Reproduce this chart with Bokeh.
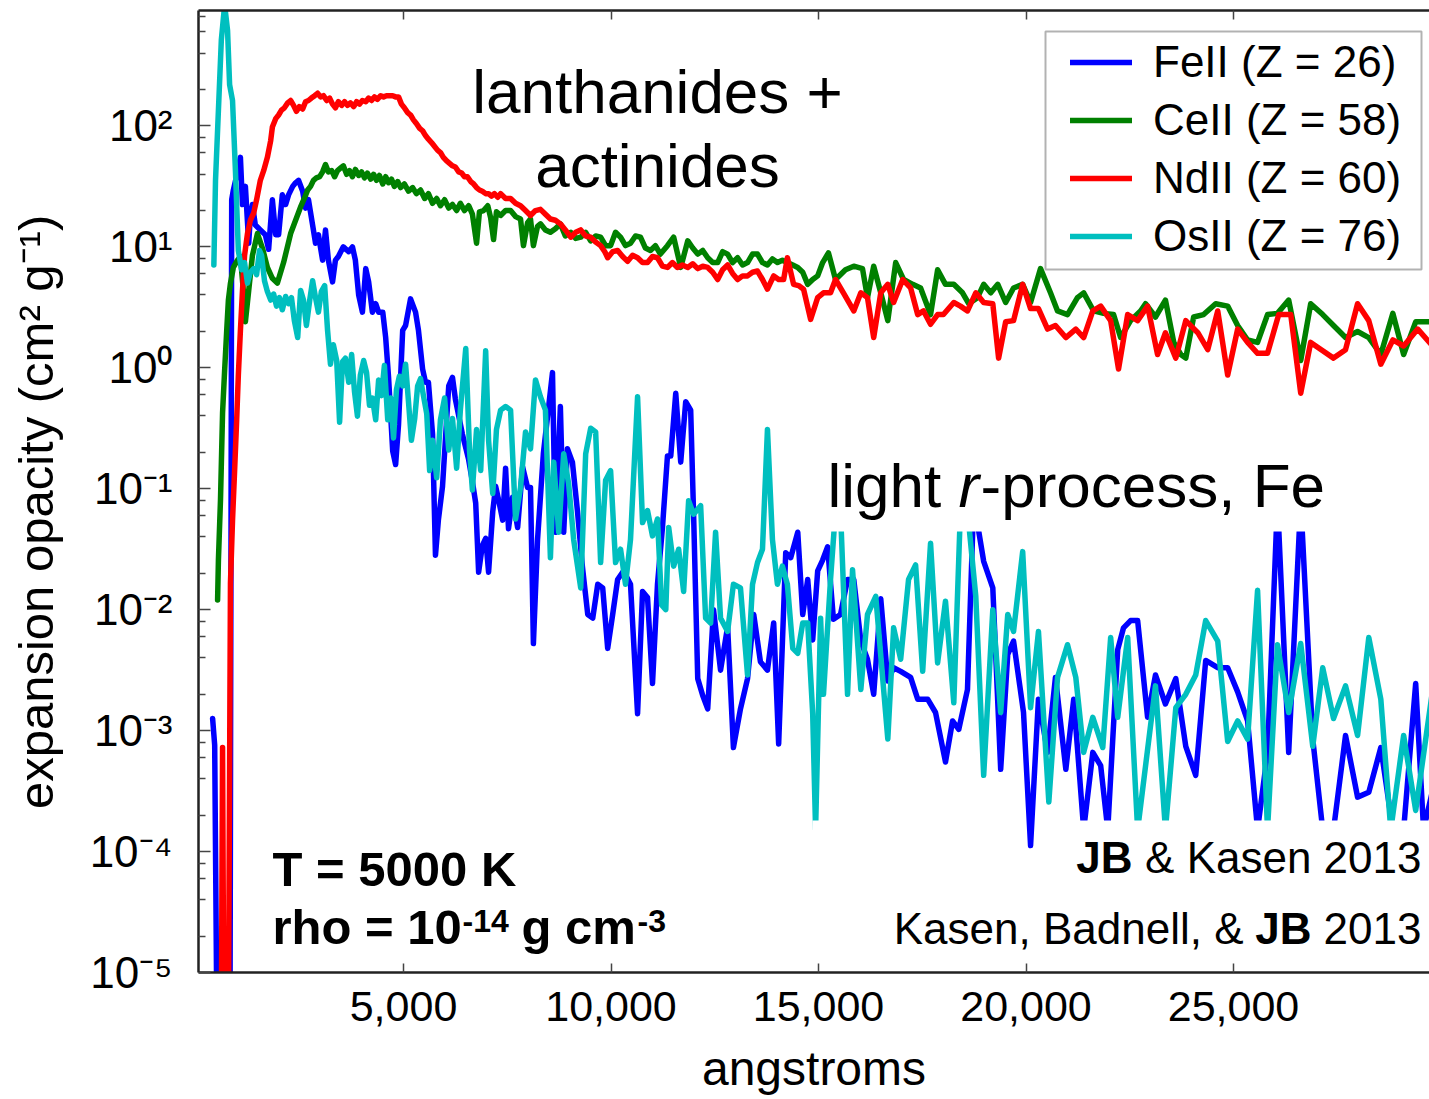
import math
from bokeh.plotting import figure
from bokeh.models import (Range1d, FixedTicker, NumeralTickFormatter, PrintfTickFormatter,
                          CustomJSTickFormatter, LinearAxis, Label, BoxAnnotation,
                          Legend, LegendItem)
from bokeh.embed import file_html
from bokeh.resources import INLINE

# ---------------------------------------------------------------------------
# Expansion opacity at T = 5000 K, rho = 1e-14 g/cm^3.
# Wavelengths in angstroms, opacities stored as log10(kappa / cm^2 g^-1).
# ---------------------------------------------------------------------------
feii_wavelength = [
    400, 450, 540, 810, 860, 900, 980, 1070, 1120, 1190,
    1270, 1310, 1360, 1430, 1550, 1670, 1750, 1840, 1920, 1990,
    2080, 2160, 2230, 2330, 2400, 2470, 2570, 2640, 2710, 2810,
    2880, 2950, 3050, 3120, 3190, 3290, 3360, 3430, 3550, 3680,
    3770, 3840, 3920, 4010, 4090, 4160, 4250, 4330, 4400, 4500,
    4570, 4640, 4740, 4810, 4880, 4980, 5050, 5170, 5290, 5360,
    5460, 5530, 5600, 5700, 5770, 5840, 5940, 6090, 6180, 6250,
    6420, 6570, 6660, 6740, 6810, 6900, 6980, 7050, 7150, 7220,
    7290, 7390, 7460, 7530, 7630, 7750, 7870, 7990, 8060, 8130,
    8230, 8370, 8590, 8660, 8780, 8860, 8950, 9070, 9190, 9310,
    9440, 9560, 9680, 9800, 9920, 10040, 10160, 10300, 10470, 10640,
    10760, 10880, 11000, 11120, 11240, 11360, 11440, 11560, 11680, 11800,
    11920, 11990, 12090, 12210, 12330, 12470, 12640, 12810, 12950, 13120,
    13290, 13440, 13600, 13770, 13920, 14040, 14210, 14330, 14500, 14620,
    14740, 14860, 14980, 15100, 15220, 15360, 15530, 15700, 15850, 16020,
    16180, 16330, 16500, 16670, 16810, 16980, 17220, 17390, 17630, 17820,
    18060, 18230, 18380, 18590, 18740, 18980, 19200, 19390, 19560, 19700,
    19940, 20110, 20300, 20520, 20710, 20960, 21150, 21390, 21610, 21800,
    21970, 22210, 22350, 22520, 22690, 22930, 23120, 23360, 23610, 23850,
    24090, 24330, 24620, 24860, 25100, 25340, 25580, 25820, 26060, 26330,
    26620, 26910, 27150, 27410, 27700, 27990, 28260, 28550, 28840, 29100,
    29390, 29580, 29800,
]
feii_log_opacity = [
    -2.90, -3.12, -7.0, -7.0, 1.39, 1.47, 1.59, 1.74, 1.35, 1.50,
    1.03, 1.26, 1.35, 1.18, 1.14, 1.10, 0.98, 1.39, 1.10, 1.10,
    1.43, 1.35, 1.43, 1.50, 1.53, 1.55, 1.46, 1.32, 1.39, 1.18,
    1.03, 1.10, 0.89, 1.14, 0.89, 0.71, 0.89, 0.92, 1.00, 0.96,
    1.00, 0.89, 0.60, 0.46, 0.82, 0.71, 0.46, 0.53, 0.46, 0.46,
    0.25, -0.08, -0.69, -0.80, -0.47, 0.31, 0.35, 0.57, 0.46, 0.31,
    -0.01, -0.12, -0.12, -0.55, -1.55, -1.26, -0.98, -0.15, -0.08, -0.26,
    -0.55, -0.76, -0.94, -1.12, -1.69, -1.47, -1.41, -1.69, -1.19, -0.98,
    -1.09, -1.26, -0.83, -1.33, -1.07, -1.32, -0.82, -0.99, -0.99, -2.28,
    -1.42, -0.71, -0.04, -1.36, -0.32, -1.36, -0.67, -0.78, -1.18, -1.64,
    -2.04, -2.07, -1.79, -1.82, -2.32, -2.04, -1.75, -1.68, -1.79, -2.86,
    -1.85, -1.90, -2.61, -1.79, -1.32, -0.73, -0.73, -0.21, -0.78, -0.28,
    -0.35, -1.21, -2.57, -2.71, -2.82, -2.00, -2.50, -2.14, -3.14, -2.82,
    -2.57, -2.04, -2.43, -2.50, -2.11, -3.11, -1.53, -1.57, -1.36, -2.04,
    -1.75, -2.25, -1.68, -1.59, -1.48, -2.08, -2.04, -1.75, -1.75, -2.26,
    -2.41, -2.70, -1.91, -2.59, -2.48, -2.51, -2.56, -2.74, -2.74, -2.85,
    -3.26, -2.92, -2.99, -2.66, -1.10, -1.60, -1.82, -3.32, -2.37, -2.26,
    -2.85, -3.95, -2.74, -3.18, -2.56, -3.32, -2.74, -3.82, -3.18, -3.29,
    -3.82, -2.33, -2.15, -2.09, -2.09, -2.89, -2.54, -2.78, -2.57, -3.13,
    -3.37, -2.42, -2.48, -2.48, -2.68, -2.92, -3.82, -3.18, -1.10, -3.18,
    -1.10, -3.07, -3.82, -3.82, -3.04, -3.55, -3.51, -3.14, -3.82, -3.82,
    -2.61, -3.82, -3.49,
]

ceii_wavelength = [
    520, 540, 590, 640, 690, 740, 780, 830, 900, 1000,
    1070, 1140, 1190, 1270, 1360, 1480, 1600, 1720, 1840, 1960,
    2110, 2210, 2280, 2400, 2520, 2610, 2690, 2760, 2830, 2900,
    2980, 3050, 3120, 3190, 3270, 3340, 3410, 3480, 3550, 3630,
    3700, 3770, 3840, 3920, 3990, 4060, 4130, 4210, 4280, 4350,
    4420, 4500, 4570, 4640, 4710, 4780, 4860, 4930, 5020, 5120,
    5220, 5310, 5410, 5510, 5600, 5700, 5800, 5890, 5990, 6090,
    6180, 6280, 6370, 6470, 6570, 6660, 6760, 6830, 6930, 7030,
    7100, 7170, 7240, 7340, 7460, 7580, 7700, 7820, 7890, 7990,
    8060, 8130, 8230, 8300, 8420, 8540, 8660, 8780, 8900, 9030,
    9150, 9270, 9390, 9510, 9630, 9750, 9870, 9990, 10110, 10230,
    10350, 10470, 10590, 10710, 10830, 10950, 11070, 11190, 11360, 11510,
    11680, 11850, 11970, 12090, 12210, 12330, 12450, 12570, 12690, 12810,
    12930, 13050, 13170, 13290, 13410, 13530, 13650, 13770, 13890, 14010,
    14130, 14250, 14380, 14500, 14620, 14740, 14860, 14980, 15100, 15240,
    15410, 15650, 15850, 16060, 16180, 16330, 16500, 16670, 16860, 17050,
    17270, 17460, 17700, 17870, 18060, 18260, 18470, 18620, 18830, 18980,
    19150, 19320, 19510, 19700, 19920, 20110, 20350, 20590, 20760, 21000,
    21240, 21390, 21630, 21870, 22110, 22280, 22520, 22760, 22880, 23120,
    23360, 23560, 23730, 23850, 24040, 24280, 24570, 24860, 25100, 25340,
    25580, 25820, 26060, 26330, 26620, 26860, 27150, 27410, 27700, 27990,
    28260, 28550, 28840, 29100, 29390, 29800,
]
ceii_log_opacity = [
    -1.92, -1.59, -1.09, -0.37, -0.02, 0.31, 0.56, 0.70, 0.83, 0.89,
    0.92, 0.64, 0.38, 0.64, 0.93, 1.11, 0.99, 0.83, 0.74, 0.70,
    0.87, 1.01, 1.11, 1.22, 1.33, 1.40, 1.47, 1.50, 1.55, 1.57,
    1.58, 1.62, 1.68, 1.62, 1.63, 1.58, 1.63, 1.65, 1.67, 1.60,
    1.63, 1.58, 1.64, 1.59, 1.62, 1.57, 1.61, 1.56, 1.60, 1.55,
    1.59, 1.52, 1.58, 1.53, 1.56, 1.50, 1.54, 1.49, 1.52, 1.46,
    1.49, 1.44, 1.47, 1.40, 1.44, 1.36, 1.40, 1.34, 1.39, 1.32,
    1.35, 1.30, 1.36, 1.30, 1.34, 1.27, 1.03, 1.29, 1.30, 1.34,
    1.24, 1.06, 1.29, 1.26, 1.30, 1.30, 1.25, 1.23, 1.01, 1.20,
    1.23, 1.01, 1.17, 1.19, 1.14, 1.12, 1.15, 1.19, 1.09, 1.12,
    1.07, 1.08, 1.12, 1.05, 1.09, 1.08, 1.01, 1.01, 1.12, 1.08,
    1.01, 1.03, 1.09, 1.08, 0.99, 0.97, 1.01, 0.94, 1.01, 1.08,
    0.83, 1.05, 0.99, 0.94, 0.97, 0.91, 0.87, 0.87, 0.96, 0.94,
    0.87, 0.91, 0.85, 0.87, 0.94, 0.94, 0.87, 0.85, 0.90, 0.87,
    0.89, 0.87, 0.85, 0.83, 0.79, 0.69, 0.73, 0.76, 0.87, 0.95,
    0.73, 0.81, 0.84, 0.82, 0.58, 0.84, 0.62, 0.39, 0.87, 0.73,
    0.69, 0.66, 0.44, 0.81, 0.69, 0.69, 0.62, 0.53, 0.58, 0.69,
    0.62, 0.69, 0.54, 0.66, 0.69, 0.54, 0.82, 0.62, 0.47, 0.44,
    0.58, 0.62, 0.47, 0.45, 0.44, 0.25, 0.39, 0.47, 0.53, 0.42,
    0.56, 0.21, 0.11, 0.08, 0.42, 0.44, 0.53, 0.51, 0.35, 0.23,
    0.21, 0.44, 0.45, 0.56, 0.06, 0.53, 0.44, 0.35, 0.25, 0.30,
    0.25, 0.11, 0.45, 0.11, 0.38, 0.38,
]

ndii_wavelength = [
    590, 640, 690, 760, 830, 880, 930, 980, 1020, 1070,
    1120, 1170, 1240, 1310, 1390, 1460, 1550, 1630, 1720, 1800,
    1840, 1920, 1990, 2060, 2130, 2210, 2280, 2350, 2420, 2490,
    2570, 2640, 2710, 2780, 2860, 2930, 3000, 3070, 3150, 3220,
    3290, 3360, 3430, 3510, 3580, 3650, 3720, 3800, 3870, 3940,
    4010, 4090, 4160, 4230, 4300, 4370, 4450, 4520, 4590, 4660,
    4740, 4810, 4880, 4950, 5020, 5100, 5170, 5240, 5310, 5390,
    5460, 5530, 5600, 5680, 5750, 5820, 5890, 5960, 6040, 6110,
    6180, 6250, 6330, 6400, 6470, 6540, 6620, 6690, 6760, 6830,
    6900, 6980, 7050, 7120, 7190, 7270, 7340, 7460, 7580, 7700,
    7820, 7940, 8060, 8180, 8300, 8420, 8540, 8660, 8780, 8900,
    9030, 9150, 9270, 9390, 9510, 9630, 9750, 9850, 9920, 10040,
    10160, 10280, 10400, 10520, 10640, 10760, 10880, 11000, 11120, 11240,
    11360, 11480, 11600, 11720, 11850, 11970, 12090, 12210, 12330, 12450,
    12570, 12690, 12810, 12930, 13050, 13170, 13290, 13410, 13530, 13650,
    13770, 13920, 14040, 14160, 14250, 14400, 14520, 14640, 14810, 14980,
    15120, 15290, 15410, 15600, 15850, 16020, 16180, 16330, 16500, 16670,
    16810, 17030, 17220, 17390, 17530, 17700, 17870, 18010, 18260, 18420,
    18590, 18790, 18980, 19200, 19340, 19510, 19700, 19920, 20110, 20300,
    20520, 20710, 20960, 21200, 21390, 21610, 21800, 22040, 22230, 22450,
    22690, 22930, 23170, 23360, 23610, 23850, 24140, 24380, 24620, 24860,
    25100, 25340, 25580, 25820, 26090, 26380, 26620, 26860, 27150, 27410,
    27700, 27990, 28260, 28550, 28840, 29100, 29440, 29800,
]
ndii_log_opacity = [
    -7.0, -3.14, -7.0, -7.0, -1.78, -1.26, -0.85, -0.43, -0.06, 0.31,
    0.64, 0.93, 1.11, 1.22, 1.28, 1.39, 1.55, 1.63, 1.74, 1.88,
    1.99, 2.06, 2.09, 2.13, 2.15, 2.19, 2.21, 2.17, 2.12, 2.16,
    2.14, 2.20, 2.21, 2.23, 2.25, 2.27, 2.24, 2.25, 2.21, 2.23,
    2.18, 2.15, 2.20, 2.17, 2.20, 2.17, 2.19, 2.16, 2.20, 2.18,
    2.21, 2.20, 2.23, 2.21, 2.24, 2.22, 2.25, 2.24, 2.25, 2.25,
    2.25, 2.24, 2.24, 2.18, 2.15, 2.11, 2.09, 2.05, 2.02, 1.98,
    1.96, 1.92, 1.89, 1.86, 1.83, 1.80, 1.78, 1.74, 1.71, 1.69,
    1.67, 1.66, 1.62, 1.61, 1.58, 1.58, 1.54, 1.52, 1.49, 1.47,
    1.46, 1.44, 1.44, 1.42, 1.44, 1.41, 1.44, 1.40, 1.40, 1.36,
    1.34, 1.30, 1.26, 1.30, 1.31, 1.27, 1.23, 1.22, 1.19, 1.14,
    1.08, 1.12, 1.14, 1.09, 1.08, 1.04, 1.01, 0.96, 0.91, 0.96,
    0.97, 0.92, 0.88, 0.93, 0.91, 0.87, 0.87, 0.92, 0.91, 0.84,
    0.83, 0.87, 0.83, 0.85, 0.83, 0.86, 0.82, 0.84, 0.83, 0.79,
    0.73, 0.81, 0.85, 0.78, 0.73, 0.76, 0.76, 0.79, 0.80, 0.73,
    0.65, 0.76, 0.73, 0.73, 0.91, 0.69, 0.68, 0.65, 0.40, 0.58,
    0.62, 0.62, 0.73, 0.62, 0.47, 0.62, 0.58, 0.25, 0.62, 0.69,
    0.54, 0.73, 0.66, 0.44, 0.47, 0.36, 0.44, 0.44, 0.54, 0.51,
    0.47, 0.62, 0.54, 0.53, 0.08, 0.38, 0.39, 0.69, 0.49, 0.49,
    0.32, 0.35, 0.25, 0.32, 0.25, 0.47, 0.51, 0.39, -0.01, 0.44,
    0.39, 0.51, 0.11, 0.29, 0.08, 0.39, 0.29, 0.15, 0.47, -0.06,
    0.32, 0.21, 0.12, 0.12, 0.44, 0.44, -0.21, 0.21, 0.14, 0.08,
    0.15, 0.53, 0.39, 0.03, 0.23, 0.18, 0.32, 0.18,
]

osii_wavelength = [
    430, 470, 540, 610, 690, 760, 810, 880, 950, 1020,
    1100, 1170, 1240, 1310, 1390, 1460, 1530, 1580, 1650, 1720,
    1800, 1870, 1940, 2010, 2080, 2160, 2230, 2300, 2370, 2450,
    2520, 2590, 2660, 2740, 2810, 2880, 2950, 3020, 3100, 3170,
    3240, 3310, 3390, 3460, 3530, 3600, 3680, 3750, 3820, 3890,
    3960, 4040, 4110, 4180, 4250, 4330, 4400, 4470, 4540, 4620,
    4690, 4760, 4830, 4900, 4980, 5050, 5120, 5190, 5270, 5340,
    5410, 5480, 5560, 5630, 5700, 5800, 5890, 5990, 6090, 6180,
    6280, 6370, 6500, 6590, 6660, 6760, 6860, 6980, 7050, 7150,
    7240, 7340, 7460, 7580, 7700, 7820, 7940, 8060, 8180, 8300,
    8420, 8540, 8620, 8740, 8860, 8980, 9100, 9270, 9390, 9510,
    9630, 9750, 9870, 9990, 10110, 10230, 10350, 10470, 10640, 10760,
    10880, 11000, 11120, 11220, 11320, 11390, 11510, 11630, 11750, 11870,
    11990, 12160, 12280, 12400, 12520, 12640, 12810, 12950, 13120, 13290,
    13410, 13530, 13650, 13770, 13890, 14010, 14130, 14250, 14380, 14500,
    14620, 14740, 14860, 14930, 15050, 15120, 15290, 15410, 15530, 15700,
    15820, 16020, 16180, 16380, 16670, 16810, 16980, 17170, 17340, 17510,
    17700, 17870, 18060, 18260, 18420, 18590, 18790, 18980, 19200, 19390,
    19560, 19700, 19920, 20110, 20300, 20550, 20760, 21000, 21200, 21390,
    21610, 21850, 22040, 22210, 22450, 22690, 23120, 23360, 23610, 23850,
    24090, 24330, 24620, 24860, 25100, 25340, 25580, 25820, 26060, 26330,
    26620, 26910, 27150, 27410, 27700, 27990, 28260, 28550, 28790, 29100,
    29390, 29800,
]
osii_log_opacity = [
    0.85, 1.55, 2.13, 2.71, 3.00, 2.79, 2.34, 2.21, 1.63, 0.97,
    0.81, 0.87, 0.70, 0.79, 0.82, 0.77, 0.97, 0.93, 0.72, 0.63,
    0.56, 0.61, 0.51, 0.58, 0.48, 0.59, 0.53, 0.58, 0.39, 0.25,
    0.64, 0.56, 0.35, 0.56, 0.72, 0.58, 0.46, 0.63, 0.68, 0.31,
    0.03, 0.19, 0.06, -0.45, 0.05, 0.08, -0.12, 0.11, -0.20, -0.40,
    -0.06, 0.06, -0.04, -0.31, -0.25, -0.43, -0.10, -0.23, 0.02, -0.43,
    -0.25, -0.58, -0.18, -0.07, -0.15, 0.03, -0.28, -0.60, -0.42, -0.15,
    -0.09, -0.23, -0.38, -0.85, -0.60, -0.91, -0.43, -0.25, -0.68, -0.42,
    -0.83, -0.35, 0.16, -0.68, -1.01, -0.51, -0.85, 0.14, -0.60, -1.04,
    -0.51, -0.35, -0.32, -0.35, -1.25, -0.99, -0.53, -0.67, -0.10, -0.24,
    -0.35, -1.57, -0.78, -1.36, -0.71, -0.96, -1.42, -1.82, -0.71, -0.50,
    -0.53, -1.61, -0.93, -0.85, -1.61, -1.50, -1.79, -1.42, -0.24, -1.28,
    -1.18, -1.39, -1.25, -1.96, -2.00, -1.32, -1.64, -1.50, -1.85, -1.10,
    -1.21, -1.14, -2.07, -2.11, -1.36, -2.07, -2.18, -1.79, -1.82, -2.54,
    -1.79, -1.61, -1.50, -0.51, -1.42, -1.79, -1.64, -1.79, -2.32, -2.36,
    -2.11, -2.11, -2.86, -3.82, -2.07, -2.70, -1.75, -1.18, -1.18, -2.70,
    -1.67, -2.66, -2.04, -1.89, -3.07, -2.15, -2.41, -1.75, -1.63, -2.51,
    -1.45, -2.44, -1.93, -2.77, -1.18, -1.18, -1.89, -3.37, -2.00, -2.85,
    -2.04, -2.18, -1.52, -2.81, -2.18, -3.59, -2.56, -2.29, -2.56, -3.18,
    -2.89, -3.14, -2.23, -2.89, -2.23, -3.82, -2.63, -3.82, -2.81, -2.70,
    -2.54, -2.09, -2.26, -3.09, -2.92, -3.07, -1.84, -3.82, -2.29, -2.85,
    -2.28, -3.13, -2.48, -2.90, -2.63, -3.04, -2.23, -2.74, -3.82, -3.04,
    -3.66, -2.66,
]

species = ["FeII (Z = 26)", "CeII (Z = 58)", "NdII (Z = 60)", "OsII (Z = 76)"]
species_colors = ["#0000ff", "#008000", "#ff0000", "#00bfbf"]
x_tick_values = [5000, 10000, 15000, 20000, 25000]
y_tick_exponents = [-5, -4, -3, -2, -1, 0, 1, 2]

# ---------------------------------------------------------------------------
FONT = "Liberation Sans"
W, H = 1429, 1099
FRAME_LEFT, FRAME_TOP, FRAME_BOTTOM_BORDER = 198, 10, 127
FRAME_BOTTOM = H - FRAME_BOTTOM_BORDER
FRAME_W, FRAME_H = W - FRAME_LEFT, FRAME_BOTTOM - FRAME_TOP
X0, X1 = 60.0, 29723.0
Y0, Y1 = 1e-5, 900.0

p = figure(width=W, height=H, x_range=Range1d(X0, X1), y_range=Range1d(Y0, Y1),
           y_axis_type="log", output_backend="svg", toolbar_location=None,
           min_border_left=FRAME_LEFT, min_border_right=0,
           min_border_top=FRAME_TOP, min_border_bottom=FRAME_BOTTOM_BORDER)
p.outline_line_color = None
p.grid.visible = False
p.background_fill_color = "white"
p.border_fill_color = "white"


def px_x(px):
    return X0 + (px - FRAME_LEFT) / FRAME_W * (X1 - X0)


def px_y(py):
    span = math.log10(Y1) - math.log10(Y0)
    return 10 ** (math.log10(Y0) + (FRAME_BOTTOM - py) / FRAME_H * span)


AXIS_COLOR = "#222222"
TICK_COLOR = "#444444"

# bottom axis
xa = p.xaxis[0]
xa.ticker = FixedTicker(ticks=x_tick_values, minor_ticks=[])
xa.formatter = NumeralTickFormatter(format="0,0")
xa.major_tick_in, xa.major_tick_out = 9, 0
xa.minor_tick_in, xa.minor_tick_out = 0, 0
xa.axis_line_width = 2.5
xa.axis_line_color = AXIS_COLOR
xa.major_tick_line_color = TICK_COLOR
xa.major_tick_line_width = 1.5
xa.major_label_text_font = FONT
xa.major_label_text_font_size = "43px"
xa.major_label_text_color = "black"
xa.major_label_standoff = 19
xa.axis_label = "angstroms"
xa.axis_label_text_font = FONT
xa.axis_label_text_font_size = "48px"
xa.axis_label_text_font_style = "normal"
xa.axis_label_text_color = "black"
xa.axis_label_standoff = 18

# top axis: ticks only
top_axis = LinearAxis(ticker=FixedTicker(ticks=x_tick_values, minor_ticks=[]),
                      formatter=PrintfTickFormatter(format="%d"),
                      major_label_text_font_size="1px", major_label_text_color=None,
                      major_tick_in=9, major_tick_out=0, minor_tick_in=0, minor_tick_out=0,
                      axis_line_width=2.5, axis_line_color=AXIS_COLOR,
                      major_tick_line_color=TICK_COLOR, major_tick_line_width=1.5,
                      major_label_standoff=0)
p.add_layout(top_axis, "above")

# left log axis, decade labels written as 10 with a superscript exponent
ya = p.yaxis[0]
decades = [10.0 ** e for e in y_tick_exponents]
minors = [m * 10.0 ** e for e in y_tick_exponents for m in (2, 4, 6, 8)]
ya.ticker = FixedTicker(ticks=decades, minor_ticks=minors)
ya.formatter = CustomJSTickFormatter(code="""
    const sup = {"-": "\\u207b", "0": "\\u2070", "1": "\\u00b9", "2": "\\u00b2",
                 "3": "\\u00b3", "4": "\\u2074", "5": "\\u2075", "6": "\\u2076",
                 "7": "\\u2077", "8": "\\u2078", "9": "\\u2079"};
    const e = Math.round(Math.log10(tick));
    return "10" + String(e).split("").map((c) => sup[c]).join("");
""")
ya.major_tick_in, ya.major_tick_out = 12, 0
ya.minor_tick_in, ya.minor_tick_out = 7, 0
ya.axis_line_width = 2.5
ya.axis_line_color = AXIS_COLOR
ya.major_tick_line_color = TICK_COLOR
ya.minor_tick_line_color = TICK_COLOR
ya.major_tick_line_width = 1.5
ya.minor_tick_line_width = 1.5
ya.major_label_text_font = FONT
ya.major_label_text_font_size = "44px"
ya.major_label_text_color = "black"
ya.major_label_standoff = 26
# trailing no-break spaces lower the title a little below the frame centre
ya.axis_label = "expansion opacity (cm\u00b2 g\u207b\u00b9)\u00a0\u00a0\u00a0"
ya.axis_label_text_font = FONT
ya.axis_label_text_font_size = "49px"
ya.axis_label_text_font_style = "normal"
ya.axis_label_text_color = "black"
ya.axis_label_standoff = 24

# curves
curves = []
for wl, logk, color in zip(
        [feii_wavelength, ceii_wavelength, ndii_wavelength, osii_wavelength],
        [feii_log_opacity, ceii_log_opacity, ndii_log_opacity, osii_log_opacity],
        species_colors):
    kappa = [10.0 ** v for v in logk]
    curves.append(p.line(wl, kappa, line_color=color, line_width=5.5,
                         line_join="round", line_cap="round"))

# white panels behind the annotation texts
for left, right, top, bottom in [(818, 1337, 452, 531), (812, 1020, 820, 958),
                                 (1036, W, 820, 958)]:
    p.add_layout(BoxAnnotation(left=px_x(left), right=px_x(right), top=px_y(top),
                               bottom=px_y(bottom), fill_color="white", fill_alpha=1.0,
                               line_color=None))

# legend frame + legend
p.add_layout(BoxAnnotation(left=px_x(1045), right=px_x(1421), top=px_y(31),
                           bottom=px_y(269), fill_color="white", fill_alpha=1.0,
                           line_color="black", line_width=2))
legend = Legend(items=[LegendItem(label=s, renderers=[r]) for s, r in zip(species, curves)],
                location="top_right", margin=23, padding=0, spacing=0,
                glyph_width=62, glyph_height=20, label_height=58, label_width=253,
                label_standoff=21, label_text_font=FONT, label_text_font_size="44px",
                label_text_color="black", border_line_color=None,
                background_fill_alpha=0.0)
p.add_layout(legend)


def text(s, px, baseline_py, size, align="left", style="normal"):
    """Place a text whose alphabetic baseline sits at pixel row baseline_py."""
    mid_py = baseline_py - 0.3465 * size  # labels are anchored on their box centre
    p.add_layout(Label(text=s, x=X0, y=Y0, x_offset=px - FRAME_LEFT,
                       y_offset=FRAME_BOTTOM - mid_py, text_font=FONT,
                       text_font_size=f"{size}px", text_font_style=style,
                       text_align=align, text_baseline="alphabetic",
                       text_color="black"))


# annotations
text("lanthanides +", 657, 112, 62, align="center")
text("actinides", 657, 186, 62, align="center")
text("light", 827, 506, 62)
text("r", 958, 506, 62, style="italic")
text("-process, Fe", 980, 506, 62)

text("T = 5000 K", 272, 885, 49, style="bold")
text("rho = 10", 272, 943, 49, style="bold")
text("-14", 462, 932, 32, style="bold")
text("g cm", 521, 943, 49, style="bold")
text("-3", 637, 932, 32, style="bold")

text("& Kasen 2013", 1421, 872, 44, align="right")
text("JB", 1132, 872, 44, align="right", style="bold")
text("2013", 1421, 943, 44, align="right")
text("JB", 1311, 943, 44, align="right", style="bold")
text("Kasen, Badnell, &", 1243, 943, 44, align="right")

open("out.html", "w").write(file_html(p, INLINE))
